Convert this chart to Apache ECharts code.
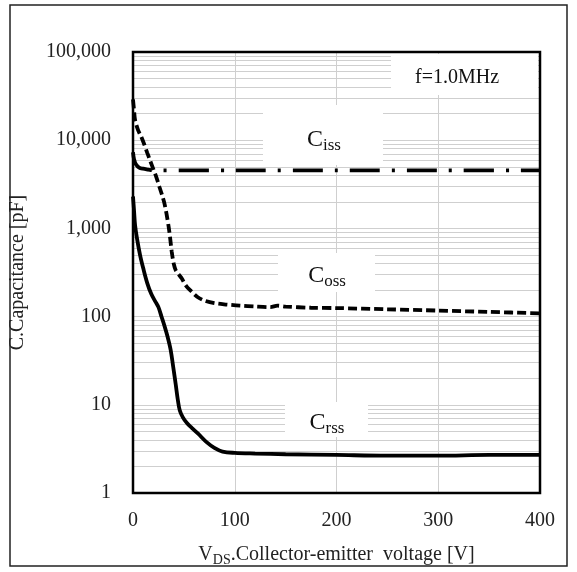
<!DOCTYPE html>
<html>
<head>
<meta charset="utf-8">
<script src="https://cdn.jsdelivr.net/npm/echarts@6/dist/echarts.min.js"></script>
<style>
html,body{margin:0;padding:0;background:#fff;}
#c{width:577px;height:572px;}
</style>
</head>
<body>
<div id="c"></div>
<script>
// ---- data (V, pF) ----
var cissData = [[0,7300],[1,6100],[3,5300],[6,4900],[10,4750],[15,4650],[20,4550],[100,4550],[200,4550],[300,4550],[400,4550]];
var cossData = [[0,29000],[1,22000],[2,17000],[5,13000],[8,11000],[11,9000],[14,7200],[17,5800],[20,4700],[23,3800],[26,2950],[29,2300],[31,1900],[33,1450],[35,1050],[36.5,780],[38,550],[40,400],[42,335],[45,300],[48,270],[52,225],[57,195],[63,168],[70,152],[80,142],[92,137],[105,133],[120,130],[135,128],[142,133],[150,130],[175,126],[200,125],[250,121],[300,117],[350,113],[400,109]];
var crssData = [[0,2300],[1,1600],[2,1100],[4,760],[7,495],[10,355],[14,240],[18,180],[22,148],[25,128],[28,100],[31,78],[34,59],[37,42],[39.5,27],[42,17],[44,11.5],[46,8.6],[49,7.2],[53,6.2],[58,5.45],[64,4.7],[72,3.8],[80,3.25],[88,2.95],[100,2.85],[120,2.8],[150,2.75],[200,2.7],[250,2.65],[300,2.65],[350,2.7],[400,2.7]];
var xTicks = [0,100,200,300,400];
var yDecades = [1,10,100,1000,10000,100000];
var labels = { freq: 'f=1.0MHz', ciss: ['C','iss'], coss: ['C','oss'], crss: ['C','rss'] };
var xTitle = ['V','DS','.Collector-emitter  voltage [V]'];
var yTitle = 'C.Capacitance [pF]';

var FONT = '"Liberation Serif","Times New Roman",serif';
var minorLines = [];
for (var i = 0; i < yDecades.length - 1; i++) {
  for (var m = 2; m <= 9; m++) minorLines.push({ yAxis: yDecades[i] * m });
}

var chart = echarts.init(document.getElementById('c'), null, { renderer: 'canvas' });

function box(x, y, w, h) {
  return { type: 'rect', z: 50, shape: { x: x, y: y, width: w, height: h }, style: { fill: '#fff' }, silent: true };
}
function capLabel(parts, cx, cy) {
  return {
    type: 'text', z: 60, x: cx, y: cy, silent: true,
    style: {
      text: '{c|' + parts[0] + '}{s|' + parts[1] + '}',
      align: 'center', verticalAlign: 'middle',
      rich: {
        c: { fontFamily: FONT, fontSize: 24, fill: '#111' },
        s: { fontFamily: FONT, fontSize: 17, fill: '#111', padding: [12, 0, 0, 0] }
      }
    }
  };
}

var option = {
  animation: false,
  backgroundColor: '#fff',
  grid: { left: 133, right: 37, top: 52, bottom: 79, show: false, containLabel: false },
  xAxis: {
    type: 'value', min: 0, max: 400, interval: 100,
    axisLine: { show: false }, axisTick: { show: false },
    splitLine: { show: true, lineStyle: { color: '#cfcfcf', width: 1 } },
    axisLabel: { margin: 18, fontFamily: FONT, fontSize: 20, color: '#222' },
    name: '{n|' + xTitle[0] + '}{s|' + xTitle[1] + '}{n|' + xTitle[2] + '}',
    nameLocation: 'middle', nameGap: 50,
    nameTextStyle: {
      rich: {
        n: { fontFamily: FONT, fontSize: 20, color: '#222' },
        s: { fontFamily: FONT, fontSize: 14, color: '#222', padding: [10, 0, 0, 0] }
      }
    }
  },
  yAxis: {
    type: 'log', logBase: 10, min: 1, max: 100000,
    axisLine: { show: false }, axisTick: { show: false },
    splitLine: { show: true, lineStyle: { color: '#cfcfcf', width: 1 } },
    axisLabel: {
      margin: 22, fontFamily: FONT, fontSize: 20, color: '#222',
      formatter: function (v) { return Number(v).toLocaleString('en-US'); }
    },
    name: yTitle, nameLocation: 'middle', nameGap: 105, nameRotate: 90,
    nameTextStyle: { fontFamily: FONT, fontSize: 20, color: '#222' }
  },
  graphic: [
    { type: 'rect', z: 0, shape: { x: 10, y: 5, width: 557, height: 561 }, style: { fill: 'none', stroke: '#222', lineWidth: 1.5 }, silent: true },
    box(391, 54, 147, 41),
    { type: 'text', z: 60, x: 457, y: 78, silent: true, style: { text: labels.freq, align: 'center', verticalAlign: 'middle', fontFamily: FONT, fontSize: 20, fill: '#111' } },
    box(263, 105, 120, 60),
    capLabel(labels.ciss, 324, 140),
    box(278, 253, 97, 39),
    capLabel(labels.coss, 327, 276),
    box(285, 402, 83, 35),
    capLabel(labels.crss, 327, 423),
    { type: 'rect', z: 80, shape: { x: 133, y: 52, width: 407, height: 441 }, style: { fill: 'none', stroke: '#000', lineWidth: 2.5 }, silent: true }
  ],
  series: [
    {
      type: 'line', name: 'grid', data: [], z: 1, silent: true,
      markLine: { silent: true, symbol: 'none', label: { show: false },
        lineStyle: { color: '#cfcfcf', width: 1, type: 'solid' }, data: minorLines, animation: false }
    },
    {
      type: 'line', name: 'Ciss', data: cissData, z: 5, showSymbol: false, smooth: 0.3,
      lineStyle: { color: '#000', width: 3.8, type: [30, 12, 3, 12], cap: 'butt' }
    },
    {
      type: 'line', name: 'Coss', data: cossData, z: 5, showSymbol: false, smooth: 0.3,
      lineStyle: { color: '#000', width: 3.8, type: [9, 4], cap: 'butt' }
    },
    {
      type: 'line', name: 'Crss', data: crssData, z: 5, showSymbol: false, smooth: 0.35,
      lineStyle: { color: '#000', width: 3.8, type: 'solid' }
    }
  ]
};
chart.setOption(option);
</script>
</body>
</html>
